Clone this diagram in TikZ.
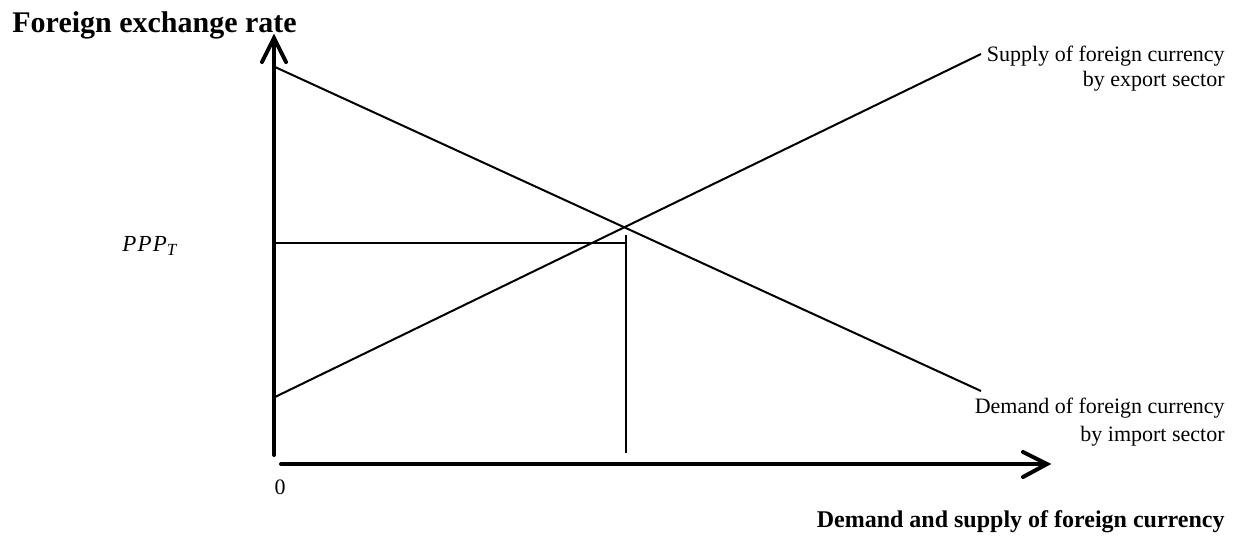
\documentclass[tikz,border=0pt]{standalone}
\usepackage{fontspec}
\setmainfont{Liberation Serif}
\begin{document}
\begin{tikzpicture}[x=0.5pt,y=-0.5pt,
  axis/.style={line width=2pt,line cap=round,line join=miter},
  curve/.style={line width=1pt},
  lbl/.style={inner sep=0pt,font=\fontsize{11}{13}\selectfont},
  ttl/.style={inner sep=0pt,font=\fontsize{15}{17}\selectfont\bfseries},
  btl/.style={inner sep=0pt,font=\fontsize{12}{14}\selectfont\bfseries}]
\useasboundingbox (0,0) rectangle (1239,536);
% axes
\coordinate (ytip) at (274,38);
\coordinate (ybot) at (274,455);
\coordinate (xstart) at (281,464);
\coordinate (xtip) at (1047,464);
\draw[axis] (ybot) -- (ytip);
\draw[axis] (262,62) -- (ytip) -- (286,62);
\draw[axis] (xstart) -- (xtip);
\draw[axis] (1023,452) -- (xtip) -- (1023,477);
% curves
\coordinate (d1) at (275,67);
\coordinate (d2) at (981,391);
\coordinate (s1) at (275,397);
\coordinate (s2) at (981,54);
\draw[curve] (d1) -- (d2);
\draw[curve] (s1) -- (s2);
% PPP lines
\coordinate (p0) at (274,243);
\coordinate (p1) at (626,243);
\coordinate (p2) at (626,235);
\coordinate (p3) at (626,453);
\draw[curve] (p0) -- (p1);
\draw[curve] (p2) -- (p3);
% texts
\node[ttl,anchor=base west] (title) at (12,32) {Foreign exchange rate};
\node[lbl,anchor=base east] (sup1) at (1225,61) {Supply of foreign currency};
\node[lbl,anchor=base east] (sup2) at (1225,86) {by export sector};
\node[lbl,anchor=base east] (dem1) at (1225,413) {Demand of foreign currency};
\node[lbl,anchor=base east] (dem2) at (1225,441) {by import sector};
\node[btl,anchor=base east] (xlab) at (1225,527) {Demand and supply of foreign currency};
\node[lbl] (zero) at (280,487) {0};
\node[lbl,anchor=base west,font=\fontsize{11.5}{13}\selectfont] (ppp) at (122,251) {\itshape P\kern0.6pt P\kern0.6pt P\raisebox{-0.4ex}{\fontsize{8.5}{9}\selectfont\itshape T}};
\end{tikzpicture}
\end{document}
